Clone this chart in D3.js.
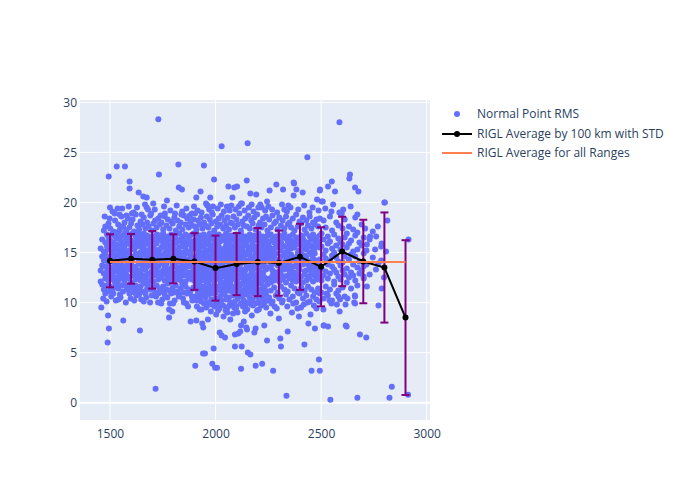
<!DOCTYPE html>
<html>
<head>
<meta charset="utf-8">
<script src="https://cdn.jsdelivr.net/npm/d3@7"></script>
<style>
html,body{margin:0;padding:0;background:#fff;}
svg{display:block;font-family:"Open Sans",verdana,arial,sans-serif;}
</style>
</head>
<body>
<svg id="chart" width="700" height="500"></svg>
<script>
// ---- Data ----
const xTicks = [1500, 2000, 2500, 3000];
const yTicks = [0, 5, 10, 15, 20, 25, 30];

// RIGL average by 100 km bins (range km), mean RMS and STD
const binRange = [1500,1600,1700,1800,1900,2000,2100,2200,2300,2400,2500,2600,2700,2800,2900];
const binMean  = [14.17,14.37,14.27,14.37,14.1,13.44,13.84,14.04,13.94,14.57,13.57,15.1,14.1,13.5,8.5];
const binStd   = [2.65,2.48,2.88,2.45,2.83,3.25,3.1,3.4,3.25,3.3,3.95,3.47,4.17,5.5,7.73];

// Overall average
const overallMean = 14.04;
const overallRange = [1500, 2900];

// Normal point cloud, columns: [range, [rms values]]
const cloudColumns = [
[1456,[13.2,15.4,12.1]],
[1463,[14.6,16.3,11.8,13.7]],
[1471,[12.9,15.1,17.2,14.2,11.3]],
[1478,[13.6,16.0,12.4,14.9,17.6,10.9]],
[1486,[15.6,13.1,11.7,16.8,14.4,12.6]],
[1493,[14.0,16.5,12.2,13.4,17.9,15.3,11.1]],
[1501,[12.8,14.6,16.2,13.5,11.6,15.7,17.4]],
[1509,[14.1,12.3,15.9,13.0,16.8,11.2,14.9]],
[1516,[13.3,15.2,17.1,12.6,14.4,16.0,10.9]],
[1524,[15.5,13.8,12.0,16.6,14.7,11.5,18.2]],
[1531,[12.5,14.2,15.8,13.1,17.0,16.4,11.9]],
[1539,[14.8,13.4,16.9,12.2,15.3,11.4,17.8]],
[1547,[13.7,15.0,12.7,16.3,14.3,10.8,17.3]],
[1554,[15.8,14.0,12.9,16.7,13.2,11.7,18.6]],
[1562,[12.4,14.5,16.1,13.6,15.4,11.1,17.6]],
[1569,[14.9,13.0,15.6,12.1,16.9,14.2,18.0]],
[1577,[13.5,15.1,16.5,12.8,14.6,11.6,17.2]],
[1585,[14.3,12.6,15.9,13.9,16.4,11.3,18.4]],
[1592,[15.2,13.3,16.8,12.4,14.8,10.9,17.5]],
[1600,[14.0,12.0,15.7,13.7,16.2,11.8,17.9]],
[1607,[13.1,15.4,14.4,16.9,12.7,11.4,18.3]],
[1615,[14.6,12.9,16.0,13.4,15.3,11.0,17.1]],
[1622,[15.9,13.6,12.3,14.9,16.6,11.7,18.8]],
[1630,[12.8,14.7,16.3,13.2,15.6,11.2,17.7]],
[1638,[14.2,15.8,12.5,16.8,13.9,10.8,17.3]],
[1645,[13.0,15.0,16.5,12.2,14.5,11.6,18.1]],
[1653,[15.4,13.5,12.7,16.1,14.1,11.1,17.8]],
[1660,[14.8,12.4,15.6,13.8,16.9,11.9,18.5]],
[1668,[13.3,15.2,14.0,16.4,12.6,10.9,17.4]],
[1676,[14.5,12.9,15.9,13.6,16.7,11.4,18.0]],
[1683,[15.1,13.9,12.2,16.3,14.7,11.8,17.6]],
[1691,[13.7,15.5,12.8,16.0,14.3,11.3,18.7]],
[1698,[14.0,16.6,13.1,15.2,12.5,10.7,17.2]],
[1706,[15.7,13.4,12.1,14.8,16.5,11.5,17.9]],
[1714,[12.9,14.6,16.2,13.8,15.3,11.0,18.2]],
[1721,[14.4,15.9,12.7,16.8,13.2,11.7,17.5]],
[1729,[13.6,15.1,14.9,12.3,16.4,10.9,18.4]],
[1736,[15.3,13.0,16.7,14.2,12.6,11.4,17.8]],
[1744,[14.7,12.5,15.5,13.9,16.2,11.1,18.0]],
[1752,[13.2,15.8,14.1,16.9,12.9,11.6,17.3]],
[1759,[14.9,13.5,12.2,15.6,16.5,10.8,18.6]],
[1767,[13.8,15.2,12.8,16.1,14.4,11.3,17.7]],
[1774,[15.0,13.3,16.6,12.4,14.6,11.9,18.3]],
[1782,[14.2,15.7,13.1,16.3,12.7,11.2,17.4]],
[1790,[13.4,14.9,16.8,12.1,15.4,10.9,18.1]],
[1797,[15.6,14.0,12.6,16.0,13.7,11.5,17.9]],
[1805,[14.5,12.9,15.3,13.6,16.7,11.0,18.5]],
[1812,[13.9,15.9,12.3,14.8,16.4,11.7,17.2]],
[1820,[15.2,13.2,16.1,14.3,12.8,11.1,18.2]],
[1828,[14.1,15.5,12.5,16.9,13.5,10.8,17.6]],
[1835,[13.0,14.7,16.3,15.0,12.2,11.4,18.0]],
[1843,[15.8,13.7,14.4,12.9,16.6,11.8,17.3]],
[1850,[14.6,12.7,15.6,13.3,16.2,11.0,18.7]],
[1858,[13.5,15.3,12.1,16.8,14.9,11.6,17.8]],
[1866,[15.1,14.2,12.8,16.0,13.8,10.9,18.4]],
[1873,[14.3,15.8,13.0,16.5,12.4,11.3,17.5]],
[1881,[13.6,15.0,16.7,12.6,14.7,11.1,18.1]],
[1888,[15.4,13.9,12.3,16.1,14.5,10.6,17.7]],
[1896,[14.0,15.6,13.2,16.9,12.9,11.5,18.3]],
[1903,[14.4,12.1,16.2,13.3,15.5,10.6,17.6,11.4,18.9]],
[1910,[13.7,15.8,12.6,16.9,14.1,10.2,17.3,11.9]],
[1917,[15.2,13.0,14.8,12.3,16.4,10.9,18.2,11.2,15.9]],
[1924,[14.6,16.1,13.5,12.0,15.4,10.4,17.8,11.7]],
[1931,[13.2,15.0,16.7,12.7,14.3,10.1,18.5,11.3,13.9]],
[1938,[15.7,14.0,12.4,16.3,13.6,10.7,17.4,11.0]],
[1945,[14.9,13.4,15.6,12.2,16.8,9.9,18.0,11.6,14.5]],
[1952,[13.8,16.0,12.9,15.2,14.4,10.5,17.7,11.1]],
[1959,[15.0,13.1,16.5,12.5,14.7,10.0,18.6,11.8,13.6]],
[1966,[14.2,15.9,13.7,12.0,16.2,10.8,17.5,11.4]],
[1973,[13.5,15.3,14.6,12.8,16.9,9.8,18.3,11.0,15.7]],
[1980,[15.5,13.9,12.3,16.4,14.1,10.3,17.9,11.6]],
[1987,[14.0,16.6,13.2,15.1,12.6,10.9,18.8,11.2,14.8]],
[1994,[13.3,15.4,14.5,12.1,16.0,9.6,17.2,11.7]],
[2001,[15.8,14.3,12.7,16.7,13.6,10.4,18.1,11.0,13.0]],
[2008,[14.7,13.0,15.9,12.4,16.3,10.1,17.6,11.5]],
[2015,[13.9,15.6,12.9,16.8,14.2,9.9,18.4,11.3,15.1]],
[2022,[15.1,13.4,14.8,12.2,16.1,10.6,17.8,11.8]],
[2029,[14.5,16.4,13.7,12.6,15.3,10.2,18.7,11.1,13.2]],
[2036,[13.6,15.0,16.6,12.0,14.4,9.7,17.4,11.6]],
[2043,[15.4,14.1,12.8,16.2,13.3,10.8,18.2,11.0,14.9]],
[2050,[14.2,15.7,13.1,16.9,12.5,10.3,17.7,11.4]],
[2057,[13.4,15.2,14.7,12.3,16.5,9.5,18.5,11.9,15.8]],
[2064,[15.9,13.8,12.6,16.0,14.4,10.5,17.3,11.2]],
[2071,[14.8,13.0,15.5,12.1,16.7,10.0,18.0,11.7,13.5]],
[2078,[13.7,16.3,14.2,12.9,15.1,9.8,17.9,11.1]],
[2085,[15.3,14.0,12.4,16.6,13.5,10.7,18.6,11.5,14.6]],
[2092,[14.1,15.8,13.2,12.7,16.2,10.1,17.5,11.0]],
[2099,[13.5,15.4,16.8,12.2,14.9,9.6,18.3,11.8,15.0]],
[2106,[15.6,13.6,14.5,12.0,16.4,10.4,17.8,11.3]],
[2113,[14.4,16.1,12.8,15.2,13.8,10.9,18.9,11.6,13.1]],
[2120,[13.9,15.0,14.3,12.5,16.9,9.9,17.2,11.2]],
[2127,[15.2,13.3,16.5,12.9,14.7,10.6,18.1,11.9,15.6]],
[2134,[14.6,15.7,13.0,16.2,12.3,10.2,17.7,11.0]],
[2141,[13.2,14.9,15.9,12.7,16.6,9.7,18.4,11.5,14.0]],
[2148,[15.7,14.2,12.1,16.0,13.6,10.8,17.6,11.3]],
[2155,[14.0,16.4,13.5,15.3,12.6,10.0,18.7,11.8,14.8]],
[2162,[13.6,15.1,14.8,12.4,16.8,10.5,17.4,11.1]],
[2169,[15.5,13.9,12.9,16.3,14.4,9.8,18.2,11.6,13.3]],
[2176,[14.3,15.8,13.2,12.0,16.1,10.3,17.9,11.0]],
[2183,[13.8,15.3,16.7,12.6,14.6,10.9,18.5,11.4,15.4]],
[2190,[15.0,13.4,14.1,12.2,16.5,9.9,17.3,11.7]],
[2197,[14.7,16.2,13.7,15.6,12.8,10.6,18.8,11.2,14.2]],
[2204,[13.3,15.0,14.5,12.4,16.9,10.1,17.7,11.9]],
[2211,[15.8,14.1,12.7,16.4,13.5,10.7,18.0,11.3,15.2]],
[2218,[14.4,15.6,13.0,12.1,16.2,9.7,17.5,11.0]],
[2225,[13.7,15.2,16.6,12.9,14.8,10.4,18.4,11.6,13.9]],
[2232,[15.3,13.6,14.2,12.5,16.0,10.0,17.8,11.4]],
[2239,[14.9,16.5,13.3,15.7,12.3,10.8,18.6,11.1,14.6]],
[2246,[13.5,15.1,14.7,12.0,16.7,10.2,17.2,11.8]],
[2254,[14.2,12.4,16.1,13.5,15.6,10.5,18.3]],
[2262,[13.6,15.3,12.0,16.8,14.7,11.2,17.5]],
[2270,[15.1,13.2,14.4,12.7,16.3,10.1,18.7]],
[2278,[14.6,16.0,13.9,12.2,15.4,11.5,17.9]],
[2286,[13.0,14.9,16.6,12.9,15.8,10.7,18.1]],
[2294,[15.5,13.7,12.5,16.2,14.1,11.0,17.3]],
[2302,[14.3,15.9,13.1,12.1,16.7,10.4,18.5]],
[2310,[13.8,15.2,14.6,12.8,16.0,11.6,17.7]],
[2318,[15.7,14.0,12.3,16.5,13.4,10.2,18.2]],
[2326,[14.8,13.3,15.6,12.6,16.9,11.3,17.4]],
[2334,[13.5,15.0,14.3,12.0,16.4,10.8,18.6]],
[2342,[15.2,13.9,12.7,16.1,14.5,11.1,17.8]],
[2350,[14.0,15.7,13.2,12.4,16.6,10.3,18.0]],
[2358,[13.4,15.4,14.8,12.9,16.2,11.7,17.5]],
[2366,[15.9,14.3,12.2,16.8,13.6,10.6,18.4]],
[2374,[14.5,13.0,15.5,12.5,16.0,11.4,17.2]],
[2382,[13.7,15.8,14.1,12.1,16.5,10.0,18.8]],
[2390,[15.0,13.5,12.8,16.3,14.7,11.0,17.6]],
[2398,[14.4,16.1,13.3,12.3,15.2,10.9,18.1]],
[2406,[13.9,15.6,14.9,12.6,16.7,11.5,17.9]],
[2414,[15.4,14.2,12.0,16.4,13.8,10.4,18.5]],
[2422,[14.7,13.1,15.9,12.8,16.1,11.2,17.3]],
[2430,[13.2,15.3,14.5,12.2,16.9,10.7,18.2]],
[2438,[15.6,13.8,12.6,16.0,14.0,11.6,17.7]],
[2446,[14.1,15.0,13.4,12.4,16.6,10.1,18.6]],
[2454,[13.6,15.7,14.8,12.9,16.3,11.3,17.4]],
[2462,[15.3,14.4,12.1,16.8,13.0,10.6,18.0]],
[2470,[14.9,13.5,15.4,12.7,16.2,11.0,17.8]],
[2478,[13.3,15.9,14.2,12.3,16.5,10.3,18.3]],
[2486,[15.8,14.0,12.8,16.1,13.7,11.4,17.6]],
[2494,[14.3,13.2,15.5,12.5,16.7,10.9,18.4]],
[2502,[13.4,15.6,12.2,16.9,11.0]],
[2512,[14.8,12.7,16.3,18.2,10.4]],
[2522,[13.1,15.2,14.4,17.5,11.6]],
[2532,[15.9,12.4,13.8,16.6,10.7]],
[2542,[14.2,16.1,12.9,18.6,11.3]],
[2552,[13.6,15.4,14.7,17.2,10.2]],
[2562,[15.0,12.1,16.8,13.3,11.8]],
[2572,[14.5,13.0,15.7,18.0,10.9]],
[2582,[12.6,16.4,14.1,17.7,11.2]],
[2592,[15.3,13.7,12.3,16.0,18.9]],
[2602,[14.0,15.8,13.2,17.4,11.5]],
[2612,[12.8,16.5,14.6,18.3,10.6]],
[2622,[15.5,13.4,16.9,12.0]],
[2632,[14.3,12.5,15.9,17.6]],
[2642,[13.0,16.2,14.8,11.4]],
[2652,[15.1,12.7,17.3,13.8]],
[2662,[14.6,16.7,12.2,18.5]],
[2672,[13.5,15.3,11.7,17.0]],
[2682,[16.0,14.1,12.9]],
[2692,[13.2,15.7,17.8]],
[2702,[14.9,12.4,16.5]],
[2715,[13.8,15.2]],
[2730,[16.3,12.8]],
[2745,[14.5,17.1]],
[2760,[13.3]],
[2785,[15.6,14.2]]
];

// Fringe of the cloud, just above and below the dense band [range, rms]
const fringePoints = [
[1475,18.6],[1498,18.4],[1512,19.1],[1545,18.8],[1558,19.4],[1578,18.7],[1604,18.9],[1628,19.5],[1650,18.8],[1666,19.8],[1695,18.9],[1712,19.3],[1740,18.7],[1756,19.6],[1786,19.2],[1808,18.9],[1816,19.7],[1838,18.8],[1862,19.4],[1878,18.7],[1898,19.6],[1915,19.2],[1934,19.0],[1955,19.9],[1970,19.3],[1983,19.0],[2010,19.4],[2025,19.8],[2040,19.1],[2075,19.7],[2095,19.3],[2110,19.6],[2138,19.2],[2158,19.5],[2180,19.1],[2212,19.8],[2235,19.2],[2250,19.6],[2268,19.3],[2292,19.0],[2315,19.8],[2338,19.1],[2355,19.5],[2392,19.3],[2420,19.7],[2445,19.0],[2460,19.5],[2488,19.2],[2520,19.4],[2557,19.8],[2605,19.3],[2640,19.6],
[1468,10.4],[1484,10.1],[1506,10.6],[1528,10.2],[1550,10.5],[1575,10.0],[1598,10.4],[1625,10.7],[1648,10.3],[1672,10.5],[1690,10.0],[1718,10.6],[1748,10.3],[1772,10.5],[1806,10.2],[1826,10.6],[1846,10.4],[1862,9.9],[1890,10.2],[1912,9.6],[1934,9.3],[1956,9.5],[1978,9.1],[1996,9.8],[2018,9.4],[2048,9.2],[2066,9.7],[2088,9.5],[2104,9.0],[2130,9.6],[2150,9.3],[2178,9.7],[2196,9.2],[2215,9.8],[2240,9.5],[2265,9.9],[2290,9.4],[2315,10.0],[2340,9.6],[2368,9.9],[2388,9.4],[2418,9.8],[2436,10.0],[2466,9.7],[2492,10.1],[2540,10.2],[2575,9.8],[2625,10.4]
];

// Individually read scattered points [range, rms]
const scatteredPoints = [
[1729,28.3],[2587,28.0],[2029,25.6],[2152,25.9],[2435,24.5],[1532,23.6],[1571,23.6],[1494,22.6],[1824,23.8],[1945,23.7],[1732,22.8],[1593,22.1],[1593,21.4],[1636,21.0],[1658,20.6],[1674,20.5],[1826,21.5],[1841,21.3],[1770,20.2],[1705,19.9],[1929,21.1],[1909,20.5],[1961,19.7],[1589,19.6],[1500,19.5],[1536,19.4],[1674,19.5],
[1993,22.3],[2148,22.2],[2061,21.6],[2089,21.5],[2102,21.6],[2288,21.8],[2370,22.0],[2372,21.9],[2165,20.9],[2193,20.8],[2256,21.2],[2320,21.3],[2383,21.3],[2080,20.5],[2244,20.1],[2370,20.7],[2413,21.0],[2494,21.2],[2481,20.3],[2503,20.1],[1975,20.5],[1963,19.7],[1988,19.6],[2121,19.9],[2125,19.9],[2171,19.8],[2203,19.5],[2219,19.5],[2345,19.7],[2326,19.3],[2054,19.6],[2067,19.2],
[2637,22.8],[2634,22.4],[2551,22.1],[2533,21.6],[2566,21.1],[2495,21.3],[2661,21.5],[2677,21.1],[2802,20.0],[2508,20.1],[2549,19.1],[2587,19.0],[2598,18.9],[2672,18.8],
[1459,9.5],[1491,8.7],[1563,8.2],[1495,7.4],[1489,6.0],[1642,7.2],[1716,1.4],[1743,9.9],[1784,9.9],[1799,9.9],[1780,9.3],[1795,9.1],[1780,8.5],[1882,8.1],[1909,8.2],[1937,7.9],[1942,7.5],[1964,8.3],[1941,4.9],[1904,3.7],
[1991,5.4],[1985,3.9],[1998,3.5],[2007,3.5],[2121,3.4],[2190,3.7],[2221,3.9],[2273,3.2],[2336,0.7],[2455,3.2],[2494,3.2],[2490,4.3],[2092,5.6],[2124,5.6],[2153,5.0],[2165,4.8],[2244,6.2],[2307,6.4],[2310,5.6],[2421,5.8],[2342,7.1],[2020,7.0],[2029,6.7],[2045,6.5],[2092,6.8],[2108,6.9],[2117,7.1],[2146,7.5],[2149,7.3],[2184,7.0],[2190,7.4],[2231,7.7],[2121,7.7],[2134,8.1],[2471,7.4],[2512,7.7],[2440,7.9],[1950,4.9],
[2544,0.3],[2672,0.5],[2824,0.5],[2835,1.6],[2912,0.8],[2684,6.8],[2714,6.5],[2621,7.6],[2514,7.7],[2533,7.6],[2588,9.1],[2549,9.9],[2616,9.8],[2657,10.0],[2660,10.7],[2772,9.7],[2511,9.3],[2527,10.9],[2582,10.6],[2590,10.3],
[2800,20.0],[2814,18.2],[2769,17.6],[2761,16.6],[2787,15.9],[2808,15.1],[2756,15.3],[2771,13.9],[2798,12.5],[2787,11.4],[2914,16.3],[2717,15.8],[2732,16.6],[2709,17.4],[2701,13.6],[2701,12.6],[2717,11.6],[2661,10.6],[2661,9.9],[2617,7.7],
[2003,8.8],[2012,9.2],[2038,8.6],[2056,9.0],[2070,8.3],[2083,8.9],[2097,9.4],[2140,9.1],[2172,8.7],[2205,9.3],[2260,8.9],[2280,9.6],[2300,8.4],[2362,9.0],[2395,8.6],[2405,9.5],[2450,8.8],[2478,9.4],[1870,9.6],[1850,10.0],[1925,9.3],[1615,10.2],[1660,10.1],[1540,10.3],[1728,10.0],
[1522,18.9],[1612,19.0],[1680,19.3],[1760,18.9],[1842,19.1],[1888,18.9]
];

const legendLabels = ["Normal Point RMS", "RIGL Average by 100 km with STD", "RIGL Average for all Ranges"];

// ---- Chart ----
const svg = d3.select("#chart");
const plot = {left: 80, right: 430, top: 100, bottom: 420};
const x = d3.scaleLinear().domain([1358, 3016]).range([plot.left, plot.right]);
const y = d3.scaleLinear().domain([-1.73, 30.23]).range([plot.bottom, plot.top]);

const textColor = "#2a3f5f";
const pointColor = "#636efa";

svg.append("rect").attr("x", plot.left).attr("y", plot.top)
  .attr("width", plot.right - plot.left).attr("height", plot.bottom - plot.top)
  .attr("fill", "#e5ecf6");

svg.append("defs").append("clipPath").attr("id", "clip")
  .append("rect").attr("x", plot.left).attr("y", plot.top)
  .attr("width", plot.right - plot.left).attr("height", plot.bottom - plot.top);

// grid
const grid = svg.append("g");
grid.selectAll(".gx").data(xTicks).join("line")
  .attr("x1", d => x(d)).attr("x2", d => x(d))
  .attr("y1", plot.top).attr("y2", plot.bottom)
  .attr("stroke", "#fff").attr("stroke-width", 1);
grid.selectAll(".gy").data(yTicks).join("line")
  .attr("x1", plot.left).attr("x2", plot.right)
  .attr("y1", d => y(d)).attr("y2", d => y(d))
  .attr("stroke", "#fff").attr("stroke-width", d => d === 0 ? 2 : 1);

// axes (labels only)
const xAxis = d3.axisBottom(x).tickValues(xTicks).tickSize(0).tickPadding(9).tickFormat(d3.format("d"));
const gx = svg.append("g").attr("transform", `translate(0,${plot.bottom})`).call(xAxis);
gx.select(".domain").remove();
gx.selectAll("text").attr("fill", textColor).style("font-size", "12px").style("font-family", '"Open Sans",verdana,arial,sans-serif');

const yAxis = d3.axisLeft(y).tickValues(yTicks).tickSize(0).tickPadding(3).tickFormat(d3.format("d"));
const gy = svg.append("g").attr("transform", `translate(${plot.left},0)`).call(yAxis);
gy.select(".domain").remove();
gy.selectAll("text").attr("fill", textColor).style("font-size", "12px").style("font-family", '"Open Sans",verdana,arial,sans-serif');

// points
const allPoints = [];
cloudColumns.forEach(([r, vals]) => vals.forEach(v => allPoints.push([r, v])));
fringePoints.forEach(p => allPoints.push(p));
scatteredPoints.forEach(p => allPoints.push(p));

const layer = svg.append("g").attr("clip-path", "url(#clip)");
layer.selectAll("circle.np").data(allPoints).join("circle")
  .attr("class", "np")
  .attr("cx", d => x(d[0])).attr("cy", d => y(d[1])).attr("r", 3)
  .attr("fill", pointColor);

// error bars
const bins = binRange.map((r, i) => ({r, m: binMean[i], s: binStd[i]}));
const eb = layer.append("g").attr("stroke", "#800080").attr("stroke-width", 2);
eb.selectAll("line.v").data(bins).join("line")
  .attr("x1", d => x(d.r)).attr("x2", d => x(d.r))
  .attr("y1", d => y(d.m + d.s)).attr("y2", d => y(d.m - d.s));
eb.selectAll("line.t").data(bins).join("line")
  .attr("x1", d => x(d.r) - 4).attr("x2", d => x(d.r) + 4)
  .attr("y1", d => y(d.m + d.s)).attr("y2", d => y(d.m + d.s));
eb.selectAll("line.b").data(bins).join("line")
  .attr("x1", d => x(d.r) - 4).attr("x2", d => x(d.r) + 4)
  .attr("y1", d => y(d.m - d.s)).attr("y2", d => y(d.m - d.s));

// average line
const line = d3.line().x(d => x(d.r)).y(d => y(d.m));
layer.append("path").datum(bins).attr("d", line)
  .attr("fill", "none").attr("stroke", "#000").attr("stroke-width", 2);
layer.selectAll("circle.avg").data(bins).join("circle")
  .attr("cx", d => x(d.r)).attr("cy", d => y(d.m)).attr("r", 3).attr("fill", "#000");

// overall average
layer.append("line")
  .attr("x1", x(overallRange[0])).attr("x2", x(overallRange[1]))
  .attr("y1", y(overallMean)).attr("y2", y(overallMean))
  .attr("stroke", "#ff7f50").attr("stroke-width", 2);

// legend
const lg = svg.append("g").style("font-family", '"Open Sans",verdana,arial,sans-serif').style("font-size", "12px");
const rowY = [114, 134, 153];
lg.append("circle").attr("cx", 457).attr("cy", rowY[0]).attr("r", 3).attr("fill", pointColor);
lg.append("line").attr("x1", 442).attr("x2", 472).attr("y1", rowY[1]).attr("y2", rowY[1]).attr("stroke", "#000").attr("stroke-width", 2);
lg.append("circle").attr("cx", 457).attr("cy", rowY[1]).attr("r", 3).attr("fill", "#000");
lg.append("line").attr("x1", 442).attr("x2", 472).attr("y1", rowY[2]).attr("y2", rowY[2]).attr("stroke", "#ff7f50").attr("stroke-width", 2);
lg.selectAll("text").data(legendLabels).join("text")
  .attr("x", 477).attr("y", (d, i) => rowY[i]).attr("dy", "0.35em")
  .attr("fill", textColor).text(d => d);
</script>
</body>
</html>
